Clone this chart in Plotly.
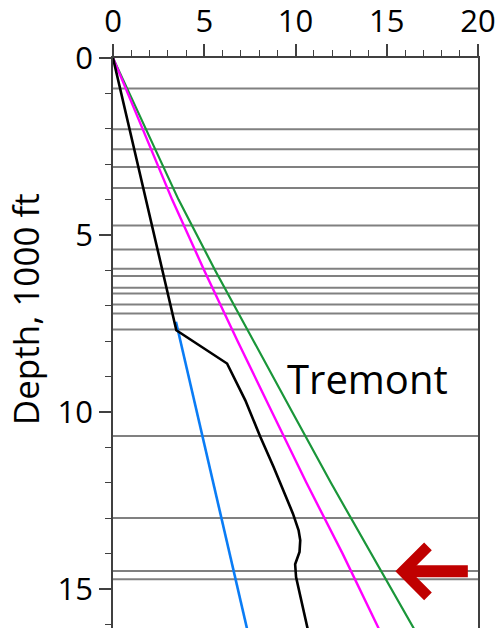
import plotly.graph_objects as go

# Depth in 1000 ft, pressure in 1000 psi
depth_grid = [0, 2, 4, 6, 8, 10, 12, 14, 16.2]
overburden = [0, 1.80, 3.59, 5.60, 7.73, 9.82, 11.94, 14.17, 16.58]
fracture = [0, 1.60, 3.24, 5.00, 6.83, 8.71, 10.60, 12.58, 14.64]

hydro_depth = [7.45, 16.2]
hydro_pressure = [3.45, 7.38]

pore_depth = [0, 7.69, 8.63, 9.67, 10.70, 11.55, 12.87, 13.34, 13.62, 13.95, 14.30, 14.66, 16.2]
pore_pressure = [0, 3.47, 6.25, 7.25, 8.07, 8.80, 9.86, 10.17, 10.26, 10.22, 9.98, 10.03, 10.70]

formation_tops = [0.86, 2.01, 2.58, 3.08, 3.67, 4.73, 5.41, 5.95, 6.16, 6.49, 6.65,
                  6.96, 7.22, 7.67, 10.68, 12.99, 14.49, 14.72]

x_ticks = [0, 5, 10, 15, 20]
y_ticks = [0, 5, 10, 15]

FONT = "Open Sans"

fig = go.Figure()

for top in formation_tops:
    fig.add_shape(type="line", xref="paper", x0=0, x1=1, yref="y", y0=top, y1=top,
                  line=dict(color="#808080", width=2), layer="below")

fig.add_trace(go.Scatter(x=overburden, y=depth_grid, mode="lines",
                         line=dict(color="#1A9639", width=2.2), showlegend=False))
fig.add_trace(go.Scatter(x=fracture, y=depth_grid, mode="lines",
                         line=dict(color="#FF00FF", width=2.4), showlegend=False))
fig.add_trace(go.Scatter(x=hydro_pressure, y=hydro_depth, mode="lines",
                         line=dict(color="#0A7CF5", width=2.6), showlegend=False))
fig.add_trace(go.Scatter(x=pore_pressure, y=pore_depth, mode="lines",
                         line=dict(color="#000000", width=2.6), showlegend=False))

fig.add_annotation(x=9.45, y=9.05, xref="x", yref="y", text="Tremont", showarrow=False,
                   xanchor="left", yanchor="middle", font=dict(family=FONT, size=40, color="black"))

# arrow marking the Tremont interval
fig.add_annotation(x=15.47, y=14.5, xref="x", yref="y", text="", showarrow=True,
                   ax=74, ay=0, axref="pixel", ayref="pixel",
                   arrowhead=4, arrowsize=0.8, arrowwidth=12, arrowcolor="#C00000",
                   standoff=0)

fig.add_annotation(x=-0.24, y=0.56, xref="paper", yref="paper", text="Depth, 1000 ft",
                   textangle=-90, showarrow=False, xanchor="center", yanchor="middle",
                   font=dict(family=FONT, size=35, color="black"))

axis_color = "#404040"
fig.update_xaxes(side="top", range=[0, 20], tickvals=x_ticks, ticks="outside", ticklen=12,
                 tickwidth=1.5, tickcolor=axis_color, showline=True, linecolor=axis_color,
                 linewidth=1.8, mirror=False, showgrid=False, zeroline=False,
                 tickfont=dict(family=FONT, size=31, color="black"),
                 minor=dict(dtick=1, ticks="outside", ticklen=6, tickwidth=1.2,
                            tickcolor=axis_color, showgrid=False))
fig.update_yaxes(range=[16.1, 0], tickvals=y_ticks, ticks="outside", ticklen=12,
                 tickwidth=1.5, tickcolor=axis_color, showline=True, linecolor=axis_color,
                 linewidth=1.8, mirror=True, showgrid=False, zeroline=False,
                 tickfont=dict(family=FONT, size=31, color="black"),
                 minor=dict(dtick=1, ticks="outside", ticklen=6, tickwidth=1.2,
                            tickcolor=axis_color, showgrid=False))

fig.update_layout(width=504, height=628, margin=dict(l=113, r=26, t=58, b=0),
                  plot_bgcolor="white", paper_bgcolor="white", showlegend=False)

fig.write_html("out.html")
